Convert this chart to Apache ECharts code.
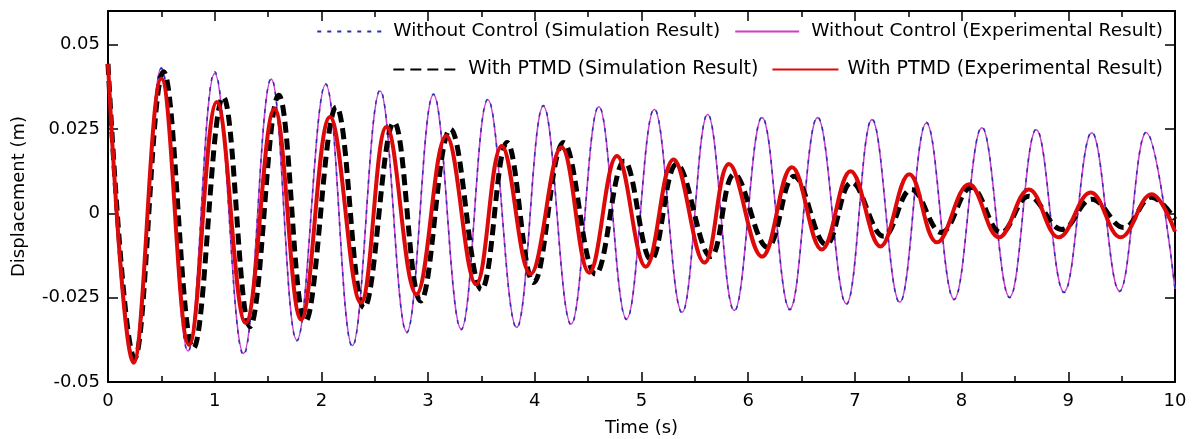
<!DOCTYPE html>
<html>
<head>
<meta charset="utf-8">
<script src="https://cdn.jsdelivr.net/npm/echarts@6/dist/echarts.min.js"></script>
<style>
html,body{margin:0;padding:0;background:#fff;}
#chart{width:1193px;height:439px;}
</style>
</head>
<body>
<div id="chart"></div>
<script>
// Series names
const seriesNames = [
  'Without Control (Simulation Result)',
  'Without Control (Experimental Result)',
  'With PTMD (Simulation Result)',
  'With PTMD (Experimental Result)'
];

// Without control: extrema (time s, displacement m)
const noCtrlT = [0, 0.25, 0.50, 0.75, 1.00, 1.27, 1.53, 1.77, 2.04, 2.29, 2.55, 2.80, 3.05, 3.31, 3.56, 3.83, 4.08, 4.34, 4.60, 4.86, 5.12, 5.38, 5.62, 5.87, 6.13, 6.39, 6.65, 6.92, 7.16, 7.42, 7.67, 7.93, 8.19, 8.45, 8.70, 8.96, 9.22, 9.48, 9.73, 10.0];
const noCtrlSimY = [0.0443, -0.0435, 0.0430, -0.0410, 0.0420, -0.0420, 0.0400, -0.0378, 0.0384, -0.0395, 0.0365, -0.0354, 0.0354, -0.0345, 0.0339, -0.0340, 0.0320, -0.0330, 0.0318, -0.0315, 0.0310, -0.0295, 0.0295, -0.0290, 0.0286, -0.0286, 0.0286, -0.0270, 0.0280, -0.0265, 0.0270, -0.0256, 0.0256, -0.0250, 0.0250, -0.0235, 0.0241, -0.0232, 0.0241, -0.0226];
const noCtrlExpY = [0.0443, -0.0432, 0.0432, -0.0408, 0.0415, -0.0415, 0.0398, -0.0376, 0.0382, -0.0392, 0.0363, -0.0352, 0.0352, -0.0343, 0.0337, -0.0338, 0.0318, -0.0328, 0.0316, -0.0313, 0.0308, -0.0293, 0.0293, -0.0288, 0.0284, -0.0284, 0.0284, -0.0268, 0.0278, -0.0263, 0.0268, -0.0254, 0.0254, -0.0248, 0.0248, -0.0233, 0.0239, -0.0230, 0.0239, -0.0224];

// With PTMD, simulation
const ptmdSimT = [0, 0.25, 0.52, 0.80, 1.08, 1.33, 1.60, 1.85, 2.14, 2.40, 2.68, 2.93, 3.21, 3.50, 3.74, 3.99, 4.27, 4.57, 4.84, 5.09, 5.33, 5.65, 5.87, 6.18, 6.43, 6.73, 6.97, 7.27, 7.53, 7.81, 8.09, 8.37, 8.63, 8.94, 9.22, 9.52, 9.78, 10.0];
const ptmdSimY = [0.0443, -0.0430, 0.0420, -0.0400, 0.0345, -0.0336, 0.0350, -0.0320, 0.0315, -0.0280, 0.0270, -0.0260, 0.0250, -0.0226, 0.0210, -0.0205, 0.0210, -0.0180, 0.0155, -0.0137, 0.0146, -0.0128, 0.0116, -0.0100, 0.0110, -0.0092, 0.0092, -0.0068, 0.0071, -0.0057, 0.0077, -0.0057, 0.0051, -0.0048, 0.0042, -0.0042, 0.0048, -0.0018];

// With PTMD, experiment
const ptmdExpT = [0, 0.24, 0.50, 0.76, 1.02, 1.29, 1.56, 1.81, 2.08, 2.37, 2.61, 2.89, 3.17, 3.45, 3.69, 3.96, 4.25, 4.51, 4.77, 5.04, 5.30, 5.59, 5.82, 6.13, 6.41, 6.69, 6.96, 7.24, 7.51, 7.77, 8.07, 8.35, 8.63, 8.91, 9.21, 9.49, 9.78, 10.0];
const ptmdExpY = [0.0443, -0.0443, 0.0400, -0.0390, 0.0330, -0.0325, 0.0310, -0.0315, 0.0286, -0.0265, 0.0256, -0.0240, 0.0230, -0.0210, 0.0200, -0.0180, 0.0196, -0.0176, 0.0170, -0.0158, 0.0160, -0.0146, 0.0146, -0.0128, 0.0137, -0.0107, 0.0125, -0.0098, 0.0116, -0.0086, 0.0086, -0.0071, 0.0071, -0.0071, 0.0062, -0.0071, 0.0057, -0.0054];

// Tick labels
const yTickValues = [-0.05, -0.025, 0, 0.025, 0.05];
const yTickLabels = ['-0.05', '-0.025', '0', '0.025', '0.05'];
const xTickLabels = ['0', '1', '2', '3', '4', '5', '6', '7', '8', '9', '10'];

const zip = (t, y) => t.map((v, i) => [v, y[i]]);
const FONT = 'DejaVu Sans';
const SMOOTH = 0.4;

const chart = echarts.init(document.getElementById('chart'), null, {renderer: 'canvas'});

function yFmt(v) {
  for (let i = 0; i < yTickValues.length; i++) {
    if (Math.abs(v - yTickValues[i]) < 1e-9) return yTickLabels[i];
  }
  return '';
}
function xFmt(v) {
  const i = Math.round(v);
  return Math.abs(v - i) < 1e-9 && xTickLabels[i] !== undefined ? xTickLabels[i] : '';
}

const axisLine = {show: true, onZero: false, lineStyle: {color: '#000', width: 2}};
const hiddenSymbol = {opacity: 0, color: 'rgba(0,0,0,0)', borderWidth: 0};

const option = {
  animation: false,
  backgroundColor: '#fff',
  grid: {left: 108, right: 18, top: 11, bottom: 57, containLabel: false, outerBoundsMode: 'none'},
  legend: [
    {
      data: [seriesNames[0], seriesNames[1]],
      right: 25, top: 17, itemWidth: 64, itemHeight: 14, itemGap: 14,
      itemStyle: hiddenSymbol,
      textStyle: {fontFamily: FONT, fontSize: 18.5, color: '#000', padding: [0, 0, 0, 7]},
      selectedMode: false
    },
    {
      data: [seriesNames[2], seriesNames[3]],
      right: 25, top: 55, itemWidth: 66, itemHeight: 14, itemGap: 13,
      itemStyle: hiddenSymbol,
      textStyle: {fontFamily: FONT, fontSize: 19, color: '#000', padding: [0, 0, 0, 4]},
      selectedMode: false
    }
  ],
  xAxis: [
    {
      type: 'value', min: 0, max: 10, interval: 1, position: 'bottom',
      axisLine: axisLine,
      axisTick: {show: true, inside: true, length: 10, lineStyle: {color: '#000', width: 1.5}},
      minorTick: {show: true, splitNumber: 2, length: 6, lineStyle: {color: '#000', width: 1.5}},
      splitLine: {show: false},
      axisLabel: {fontFamily: FONT, fontSize: 18, color: '#000', margin: 10, formatter: xFmt},
      name: 'Time (s)', nameLocation: 'middle', nameGap: 37,
      nameTextStyle: {fontFamily: FONT, fontSize: 18, color: '#000'}
    },
    {
      type: 'value', min: 0, max: 10, interval: 1, position: 'top',
      axisLine: axisLine,
      axisTick: {show: true, inside: true, length: 10, lineStyle: {color: '#000', width: 1.5}},
      minorTick: {show: true, splitNumber: 2, length: 6, lineStyle: {color: '#000', width: 1.5}},
      splitLine: {show: false},
      axisLabel: {show: false}
    }
  ],
  yAxis: [
    {
      type: 'value', min: -0.05, max: 0.06, interval: 0.025, position: 'left',
      axisLine: axisLine,
      axisTick: {show: true, inside: true, length: 10, lineStyle: {color: '#000', width: 1.5}},
      splitLine: {show: false},
      axisLabel: {fontFamily: FONT, fontSize: 18, color: '#000', margin: 8, formatter: yFmt, showMaxLabel: false},
      name: 'Displacement (m)', nameLocation: 'middle', nameGap: 80,
      nameTextStyle: {fontFamily: FONT, fontSize: 18, color: '#000'}
    },
    {
      type: 'value', min: -0.05, max: 0.06, interval: 0.025, position: 'right',
      axisLine: axisLine,
      axisTick: {show: true, inside: true, length: 10, lineStyle: {color: '#000', width: 1.5}},
      splitLine: {show: false},
      axisLabel: {show: false}
    }
  ],
  series: [
    {
      name: seriesNames[1], type: 'line', data: zip(noCtrlT, noCtrlExpY),
      smooth: SMOOTH, symbol: 'none', z: 2,
      lineStyle: {color: '#cc3fcc', width: 1.6, type: 'solid'},
      itemStyle: {color: '#cc3fcc'}
    },
    {
      name: seriesNames[0], type: 'line', data: zip(noCtrlT, noCtrlSimY),
      smooth: SMOOTH, symbol: 'none', z: 3,
      lineStyle: {color: '#2830b0', width: 1.5, type: [4, 6]},
      itemStyle: {color: '#2830b0'}
    },
    {
      name: seriesNames[2], type: 'line', data: zip(ptmdSimT, ptmdSimY),
      smooth: SMOOTH, symbol: 'none', z: 4,
      lineStyle: {color: '#000', width: 5, type: [11, 6]},
      itemStyle: {color: '#000'}
    },
    {
      name: seriesNames[3], type: 'line', data: zip(ptmdExpT, ptmdExpY),
      smooth: SMOOTH, symbol: 'none', z: 5,
      lineStyle: {color: '#dd0a0a', width: 4},
      itemStyle: {color: '#dd0a0a'}
    }
  ]
};
chart.setOption(option);
</script>
</body>
</html>
